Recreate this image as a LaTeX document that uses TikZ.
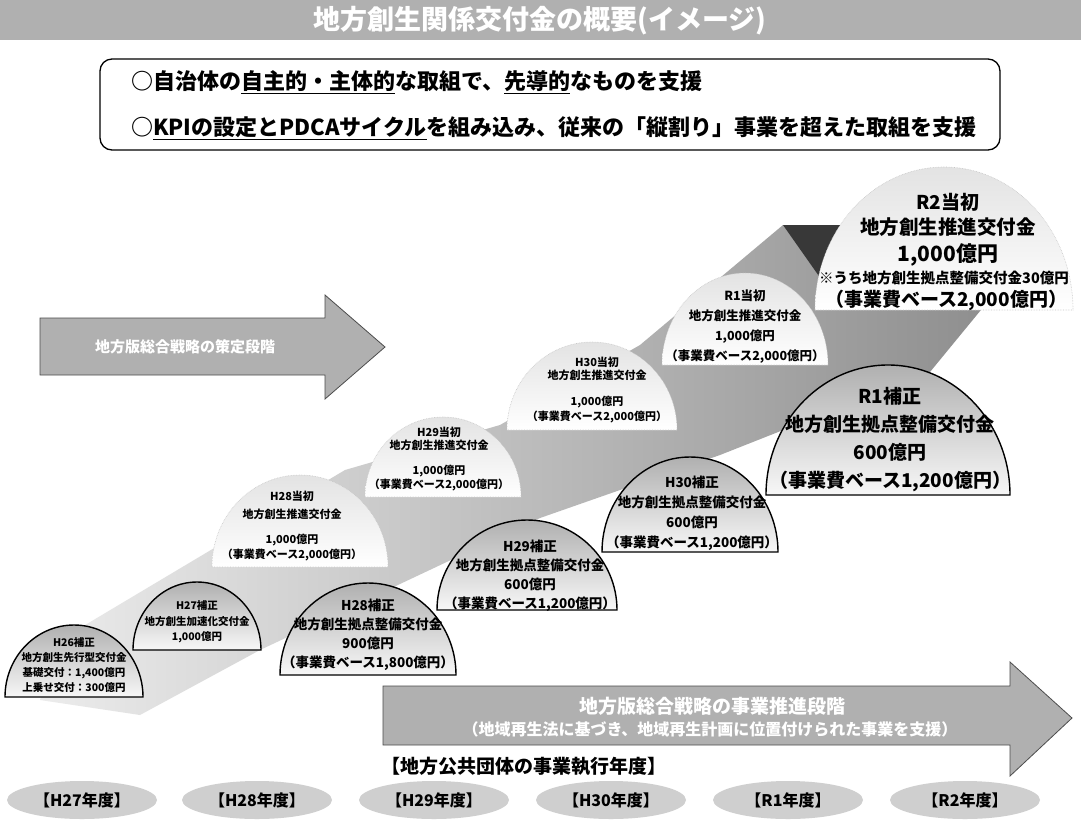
\documentclass[tikz,border=0pt]{standalone}
\usepackage{fontspec}
\setmainfont{Noto Sans CJK JP}
\usetikzlibrary{shapes.geometric}
\begin{document}
\begin{tikzpicture}[x=1pt,y=-1pt,
  every node/.style={inner sep=0pt, outer sep=0pt},
  fs/.style={font=\fontsize{#1}{#1}\selectfont\bfseries},
  ml/.style n args={2}{font=\fontsize{#1}{#2}\selectfont\bfseries, align=center},
  hosei/.style={top color=gray!62, bottom color=gray!6, draw=black, line width=1.4pt},
  toushodome/.style={top color=gray!22, bottom color=white, draw=gray!45, densely dotted, line width=0.6pt},
  bigarrow/.style={fill=gray!62, draw=black!70, line width=0.8pt},
  yearell/.style={ellipse, fill=gray!38, minimum width=150pt, minimum height=38pt, font=\fontsize{16}{16}\selectfont\bfseries}
]
\useasboundingbox (0,0) rectangle (1081,820);
\fill[white] (0,0) rectangle (1081,820);

% title bar
\fill[gray!62] (0,0) rectangle (1081,40);
\node[fs=27, text=white] (title) at (540,21) {地方創生関係交付金の概要(イメージ)};

% framed summary
\node[draw, line width=1.3pt, rounded corners=12pt, minimum width=900pt, minimum height=91pt] (box) at (550,104.5) {};
\node[fs=22, anchor=west] (l1) at (131,82) {○自治体の\underline{自主的・主体的}な取組で、\underline{先導的}なものを支援};
\node[fs=22, anchor=west] (l2) at (131,128) {○\underline{KPIの設定とPDCAサイクル}を組み込み、従来の「縦割り」事業を超えた取組を支援};

% diagonal band
\shade[left color=gray!15, middle color=gray!50, right color=gray!88]
  (40,700) -- (60,640) -- (345,470) -- (500,425) -- (640,345) -- (783,225) -- (885,225)
  -- (985,305) -- (930,372) -- (720,455) -- (540,518) -- (260,650) -- (140,715) -- cycle;
\fill[black!78] (783,225) -- (885,225) -- (840,306) -- cycle;

% left arrow
\path[bigarrow] (40,318) -- (325,318) -- (325,295) -- (385,347) -- (325,399) -- (325,375) -- (40,375) -- cycle;
\node[fs=15, text=white] (plan) at (185,347) {地方版総合戦略の策定段階};

% bottom arrow
\path[bigarrow] (383,686) -- (1010,686) -- (1010,662) -- (1072,718) -- (1010,776) -- (1010,745) -- (383,745) -- cycle;
\node[fs=19, text=white] (exec1) at (712,706) {地方版総合戦略の事業推進段階};
\node[fs=16, text=white] (exec2) at (710,729) {（地域再生法に基づき、地域再生計画に位置付けられた事業を支援）};
\node[fs=19, anchor=west] (fy) at (381,766) {【地方公共団体の事業執行年度】};

% year ellipses
\node[yearell] (y27) at (82,800) {【H27年度】};
\node[yearell] (y28) at (257,800) {【H28年度】};
\node[yearell] (y29) at (434,800) {【H29年度】};
\node[yearell] (y30) at (611,800) {【H30年度】};
\node[yearell] (yr1) at (788,800) {【R1年度】};
\node[yearell] (yr2) at (965,800) {【R2年度】};

% ---- toushou (initial budget) domes ----
\path[toushodome] (212,567) arc[start angle=180, end angle=360, x radius=88, y radius=92] -- cycle;
\node[ml={11}{18}] (t28a) at (292,505) {H28当初\\地方創生推進交付金};
\node[ml={11}{15}] (t28b) at (292,547.5) {1,000億円\\（事業費ベース2,000億円）};

\path[toushodome] (365,497) arc[start angle=180, end angle=360, x radius=78, y radius=80] -- cycle;
\node[ml={11}{13}] (t29a) at (439,438.5) {H29当初\\地方創生推進交付金};
\node[ml={11}{14}] (t29b) at (439,478) {1,000億円\\（事業費ベース2,000億円）};

\path[toushodome] (507,430) arc[start angle=180, end angle=360, x radius=85, y radius=88] -- cycle;
\node[ml={11}{13}] (t30a) at (597,368.5) {H30当初\\地方創生推進交付金};
\node[ml={11}{15}] (t30b) at (597,409.5) {1,000億円\\（事業費ベース2,000億円）};

\path[toushodome] (662,365) arc[start angle=180, end angle=360, x radius=83, y radius=92] -- cycle;
\node[ml={12.5}{20}] (tr1) at (745,327) {R1当初\\地方創生推進交付金\\1,000億円\\（事業費ベース2,000億円）};

\path[toushodome] (815,310) arc[start angle=180, end angle=360, x radius=129, y radius=143] -- cycle;
\node[fs=19] (tr2a) at (948,202) {R2当初};
\node[fs=19.5] (tr2b) at (948,227) {地方創生推進交付金};
\node[fs=21] (tr2c) at (948,255) {1,000億円};
\node[fs=14.5] (tr2d) at (944,278) {※うち地方創生拠点整備交付金30億円};
\node[fs=19] (tr2e) at (946,300) {（事業費ベース2,000億円）};

% ---- hosei (supplementary budget) domes ----
\path[hosei] (5,697) arc[start angle=180, end angle=360, x radius=69, y radius=72] -- cycle;
\node[ml={10.5}{15}] (h26) at (74,665) {H26補正\\地方創生先行型交付金\\基礎交付：1,400億円\\上乗せ交付：300億円};

\path[hosei] (133,650) arc[start angle=180, end angle=360, x radius=64, y radius=68] -- cycle;
\node[ml={10.5}{15.5}] (h27) at (197,622) {H27補正\\地方創生加速化交付金\\1,000億円};

\path[hosei] (280,675) arc[start angle=180, end angle=360, x radius=88, y radius=92] -- cycle;
\node[ml={13.5}{19}] (h28) at (368,635) {H28補正\\地方創生拠点整備交付金\\900億円\\（事業費ベース1,800億円）};

\path[hosei] (437,610) arc[start angle=180, end angle=360, x radius=90, y radius=90] -- cycle;
\node[ml={13.5}{19}] (h29) at (530,576) {H29補正\\地方創生拠点整備交付金\\600億円\\（事業費ベース1,200億円）};

\path[hosei] (602,552) arc[start angle=180, end angle=360, x radius=88, y radius=95] -- cycle;
\node[ml={13.5}{20}] (h30) at (692,513) {H30補正\\地方創生拠点整備交付金\\600億円\\（事業費ベース1,200億円）};

\path[hosei] (766,495) arc[start angle=180, end angle=360, x radius=122, y radius=130] -- cycle;
\node[ml={19}{28}] (hr1) at (890,440) {R1補正\\地方創生拠点整備交付金\\600億円\\（事業費ベース1,200億円）};
\end{tikzpicture}
\end{document}
